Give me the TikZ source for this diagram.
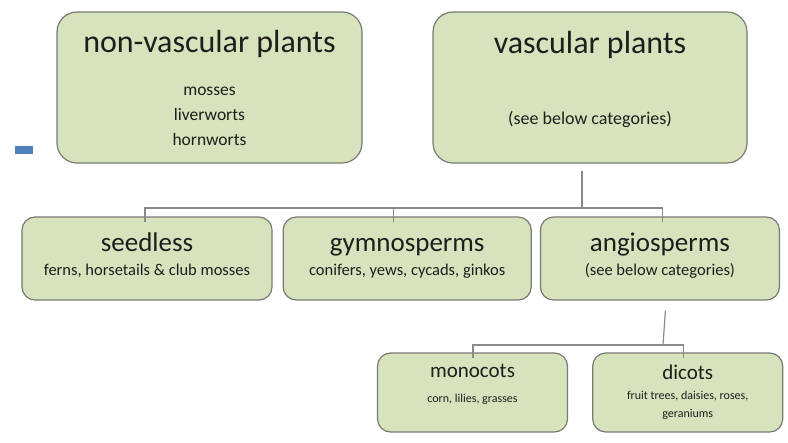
\documentclass[tikz,border=0pt]{standalone}
\usepackage{fontspec}
\setmainfont{Carlito}
\usetikzlibrary{positioning}
\definecolor{Cleafgreen}{HTML}{D7E3BC}
\definecolor{Cedgegray}{HTML}{7A7A72}
\definecolor{Clinkgray}{HTML}{8A8A8A}
\definecolor{Cinkgray}{HTML}{1E1E1E}
\definecolor{Cdashblue}{HTML}{4F81BD}

\begin{document}
\begin{tikzpicture}[x=1pt,y=-1pt,
		plantbox/.style={draw=Cedgegray,fill=Cleafgreen,line width=1.2pt,
			text=Cinkgray,align=center,inner sep=0pt,text depth=5pt},
		bigbox/.style={plantbox,rounded corners=20pt,minimum height=151pt,
			font=\fontsize{17.5}{25}\selectfont},
		rowbox/.style={plantbox,rounded corners=13pt,minimum height=83pt,
			font=\fontsize{16.5}{24}\selectfont,text height=40pt},
		leafbox/.style={plantbox,rounded corners=13pt,minimum width=190pt,minimum height=79pt,
			font=\fontsize{12}{18}\selectfont},
		link/.style={draw=Clinkgray,line width=1.2pt}]
	\useasboundingbox (0,0) rectangle (788,443);
	\fill[Cdashblue] (15,146) rectangle (33,154);

	% top row
	\node[bigbox,minimum width=305pt,text height=122pt] (nonvasc) at (209.5,87.5)
	{{\fontsize{32}{32}\selectfont non-vascular plants}\\[18pt]
		mosses\\liverworts\\hornworts};
	\node[bigbox,minimum width=314pt,text height=80pt,font=\fontsize{18}{25}\selectfont] (vasc) at (590,87.5)
	{{\fontsize{32}{32}\selectfont vascular plants}\\[46pt]
		(see below categories)};

	% vascular groups
	\node[rowbox,minimum width=250pt] (seedless) at (147,258.5)
	{{\fontsize{27}{27}\selectfont seedless}\\
		ferns, horsetails \& club mosses};
	\node[rowbox,minimum width=248pt,right=10pt of seedless] (gymno)
	{{\fontsize{27}{27}\selectfont gymnosperms}\\
		conifers, yews, cycads, ginkos};
	\node[rowbox,minimum width=239pt,right=8pt of gymno] (angio)
	{{\fontsize{27}{27}\selectfont angiosperms}\\
		(see below categories)};

	% angiosperm groups
	\node[leafbox,text height=26pt] (mono) at (472.5,392.5)
	{{\fontsize{21}{21}\selectfont monocots}\\[7pt]
		corn, lilies, grasses};
	\node[leafbox,text height=56pt,right=24pt of mono] (dicot)
	{{\fontsize{21}{21}\selectfont dicots}\\[2pt]
		fruit trees, daisies, roses,\\geraniums};

	% connectors
	\coordinate (vstem) at ([shift={(-8,7)}]vasc.south);
	\coordinate (rowbus) at (582,208);
	\coordinate (seedtick) at ([shift={(-2,6)}]seedless.north);
	\coordinate (gymnotick) at ([shift={(-14,6)}]gymno.north);
	\coordinate (angiotick) at ([shift={(2.5,6)}]angio.north);
	\draw[link] (vstem) -- (rowbus);
	\draw[link] (seedtick) -- (seedtick |- rowbus) -- (angiotick |- rowbus) -- (angiotick);
	\draw[link] (gymnotick) -- (gymnotick |- rowbus);

	\coordinate (astem) at ([shift={(5.5,10)}]angio.south);
	\coordinate (leafbus) at (663,345);
	\coordinate (monotick) at ([shift={(0.5,6)}]mono.north);
	\coordinate (dicottick) at ([shift={(-4,6)}]dicot.north);
	\draw[link] (astem) -- (leafbus);
	\draw[link] (monotick) -- (monotick |- leafbus) -- (dicottick |- leafbus) -- (dicottick);
\end{tikzpicture}
\end{document}
